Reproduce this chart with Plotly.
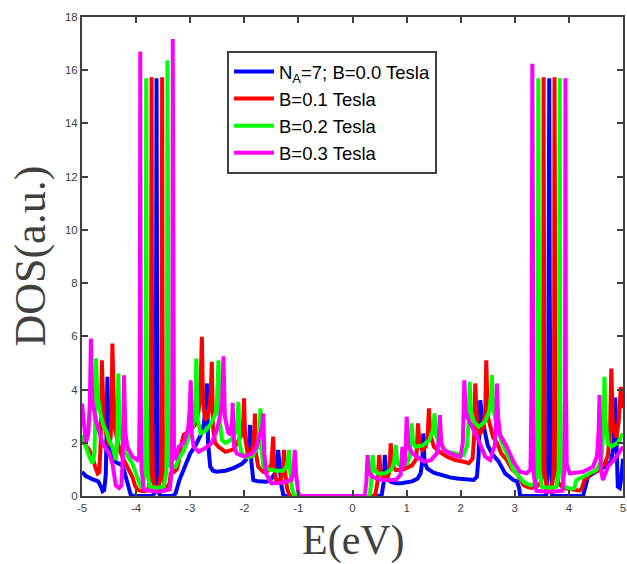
import plotly.graph_objects as go

# Density of states of an N_A = 7 armchair ribbon for four magnetic fields.
# Each list holds (E in eV, DOS in a.u.) samples.
DOS_B00 = [
    (-5.00, 0.91), (-4.93, 0.75), (-4.80, 0.62), (-4.70, 0.55), (-4.65, 0.35),
    (-4.62, 0.18), (-4.59, 0.22), (-4.56, 0.8), (-4.545, 2.5), (-4.53, 4.48),
    (-4.515, 2.8), (-4.50, 2.1), (-4.47, 1.6), (-4.44, 1.35), (-4.35, 1.25),
    (-4.25, 1.15), (-4.19, 0.72), (-4.13, 0.25), (-4.10, 0.05), (-4.05, 0.0),
    (-3.70, 0.0), (-3.66, 0.1), (-3.64, 1.5), (-3.63, 8.0), (-3.622, 15.7),
    (-3.614, 8.0), (-3.60, 1.5), (-3.58, 0.1), (-3.54, 0.0), (-3.32, 0.0),
    (-3.27, 0.1), (-3.20, 0.6), (-3.12, 1.0), (-3.05, 1.35), (-3.00, 1.6),
    (-2.90, 1.9), (-2.845, 2.1), (-2.78, 2.4), (-2.75, 2.7), (-2.72, 3.2),
    (-2.692, 4.23), (-2.67, 2.0), (-2.63, 1.1), (-2.58, 0.95), (-2.51, 0.91),
    (-2.35, 0.95), (-2.20, 1.05), (-2.05, 1.2), (-1.97, 1.35), (-1.92, 1.7),
    (-1.894, 2.67), (-1.87, 1.3), (-1.834, 0.6), (-1.75, 0.55), (-1.59, 0.54),
    (-1.50, 0.65), (-1.43, 0.86), (-1.39, 1.2), (-1.374, 1.73), (-1.35, 1.0),
    (-1.314, 0.4), (-1.28, 0.05), (-1.25, 0.0),
    (0.50, 0.0), (0.54, 0.05), (0.575, 0.5), (0.597, 1.54), (0.62, 0.9),
    (0.66, 0.6), (0.707, 0.54), (0.80, 0.48), (0.90, 0.48), (1.10, 0.55),
    (1.20, 0.65), (1.26, 0.85), (1.29, 1.3), (1.308, 2.35), (1.33, 1.3),
    (1.38, 1.04), (1.50, 0.88), (1.626, 0.79), (1.80, 0.7), (1.933, 0.66),
    (2.10, 0.62), (2.24, 0.6), (2.30, 0.72), (2.33, 1.5), (2.361, 3.6),
    (2.40, 2.9), (2.453, 2.35), (2.50, 1.9), (2.576, 1.6), (2.70, 1.3),
    (2.821, 0.85), (2.90, 0.72), (2.975, 0.6), (3.04, 0.55), (3.08, 0.3),
    (3.10, 0.0), (3.58, 0.0), (3.615, 1.5), (3.63, 8.0), (3.637, 15.7),
    (3.645, 8.0), (3.66, 1.5), (3.69, 0.0), (4.26, 0.0), (4.30, 0.3),
    (4.353, 0.72), (4.45, 0.85), (4.658, 1.1), (4.78, 1.3), (4.82, 1.8),
    (4.855, 3.7), (4.88, 1.0), (4.904, 0.35), (4.94, 0.3), (4.97, 0.7),
    (5.00, 1.4),
]

DOS_B01 = [
    (-5.00, 2.04), (-4.95, 1.95), (-4.87, 1.75), (-4.80, 1.4), (-4.74, 1.0),
    (-4.71, 0.85), (-4.68, 0.9), (-4.655, 2.0), (-4.633, 5.1), (-4.61, 3.3),
    (-4.60, 2.9), (-4.56, 2.4), (-4.50, 1.9), (-4.47, 2.2), (-4.455, 3.2),
    (-4.438, 5.73), (-4.42, 3.3), (-4.40, 2.6), (-4.346, 2.1), (-4.30, 1.7),
    (-4.25, 1.45), (-4.19, 1.2), (-4.13, 0.95), (-4.07, 0.72), (-4.02, 0.4),
    (-3.98, 0.25), (-3.93, 0.2), (-3.85, 0.18), (-3.78, 0.22), (-3.74, 0.6),
    (-3.725, 3.0), (-3.714, 15.74), (-3.703, 3.0), (-3.69, 0.8), (-3.66, 0.35),
    (-3.62, 0.3), (-3.58, 0.35), (-3.545, 0.8), (-3.53, 3.0), (-3.519, 15.74),
    (-3.508, 3.0), (-3.49, 0.6), (-3.46, 0.22), (-3.42, 0.25), (-3.38, 0.5),
    (-3.36, 0.85), (-3.30, 0.9), (-3.25, 1.0), (-3.21, 1.3), (-3.17, 1.9),
    (-3.12, 2.3), (-3.00, 2.45), (-2.90, 2.7), (-2.845, 3.2), (-2.81, 4.0),
    (-2.784, 5.98), (-2.765, 3.6), (-2.722, 2.85), (-2.68, 3.0), (-2.64, 3.4),
    (-2.62, 3.9), (-2.60, 5.04), (-2.58, 2.6), (-2.54, 2.0), (-2.477, 1.85),
    (-2.35, 1.66), (-2.20, 1.75), (-2.14, 1.98), (-2.05, 2.3), (-2.02, 2.8),
    (-2.005, 3.67), (-1.985, 2.2), (-1.93, 1.5), (-1.88, 1.5), (-1.84, 1.9),
    (-1.815, 2.5), (-1.803, 3.1), (-1.785, 1.6), (-1.742, 1.1), (-1.65, 0.91),
    (-1.56, 0.95), (-1.50, 1.2), (-1.48, 1.6), (-1.466, 2.23), (-1.445, 1.0),
    (-1.411, 0.6), (-1.33, 0.6), (-1.29, 0.9), (-1.265, 1.73), (-1.245, 0.9),
    (-1.21, 0.3), (-1.17, 0.05), (-1.13, 0.0),
    (0.38, 0.0), (0.42, 0.05), (0.46, 0.5), (0.494, 1.54), (0.52, 0.9),
    (0.56, 0.72), (0.647, 0.7), (0.68, 0.9), (0.707, 1.98), (0.73, 1.2),
    (0.80, 0.97), (0.95, 1.0), (1.10, 1.15), (1.18, 1.4), (1.211, 2.73),
    (1.24, 1.9), (1.29, 1.73), (1.35, 1.85), (1.39, 2.3), (1.413, 3.29),
    (1.44, 2.3), (1.505, 1.85), (1.65, 1.6), (1.75, 1.48), (1.90, 1.35),
    (2.056, 1.29), (2.148, 1.23), (2.22, 1.4), (2.25, 2.3), (2.269, 4.23),
    (2.30, 2.7), (2.35, 2.3), (2.42, 2.6), (2.455, 3.3), (2.472, 5.1),
    (2.50, 3.0), (2.545, 2.6), (2.60, 2.2), (2.668, 2.0), (2.75, 1.6),
    (2.852, 1.35), (2.95, 1.0), (3.036, 0.85), (3.10, 0.6), (3.16, 0.41),
    (3.22, 0.35), (3.30, 0.3), (3.40, 0.35), (3.48, 0.5), (3.515, 1.2),
    (3.525, 4.0), (3.532, 15.74), (3.54, 4.0), (3.55, 0.8), (3.60, 0.3),
    (3.68, 0.3), (3.715, 0.8), (3.726, 4.0), (3.734, 15.74), (3.742, 4.0),
    (3.755, 1.2), (3.80, 0.5), (3.90, 0.3), (4.05, 0.25), (4.20, 0.2),
    (4.24, 0.3), (4.29, 0.6), (4.40, 0.85), (4.537, 0.97), (4.658, 1.2),
    (4.72, 1.5), (4.76, 2.4), (4.784, 4.79), (4.81, 2.8), (4.842, 2.35),
    (4.88, 2.2), (4.92, 2.8), (4.96, 4.1), (4.98, 3.6), (5.00, 3.3),
]

DOS_B02 = [
    (-5.00, 2.29), (-4.93, 1.85), (-4.87, 1.5), (-4.805, 1.23), (-4.77, 1.6),
    (-4.755, 2.8), (-4.743, 5.17), (-4.72, 3.9), (-4.68, 3.3), (-4.651, 3.0),
    (-4.60, 2.6), (-4.559, 2.48), (-4.50, 2.1), (-4.438, 1.85), (-4.375, 1.35),
    (-4.35, 2.0), (-4.328, 4.6), (-4.31, 2.6), (-4.254, 2.1), (-4.192, 1.6),
    (-4.07, 1.23), (-3.978, 0.72), (-3.916, 0.35), (-3.87, 0.4), (-3.835, 1.0),
    (-3.822, 4.0), (-3.813, 15.7), (-3.804, 4.0), (-3.79, 0.9), (-3.75, 0.35),
    (-3.62, 0.3), (-3.49, 0.35), (-3.44, 0.9), (-3.428, 4.0), (-3.42, 16.37),
    (-3.41, 4.0), (-3.395, 1.4), (-3.36, 1.1), (-3.273, 1.1), (-3.212, 1.4),
    (-3.12, 1.7), (-3.05, 2.1), (-2.968, 2.48), (-2.92, 3.0), (-2.90, 3.8),
    (-2.887, 5.17), (-2.865, 2.9), (-2.808, 2.36), (-2.72, 2.45), (-2.624, 2.7),
    (-2.53, 3.1), (-2.50, 3.8), (-2.477, 5.1), (-2.455, 2.8), (-2.41, 2.1),
    (-2.35, 2.0), (-2.25, 2.1), (-2.16, 2.4), (-2.125, 2.9), (-2.11, 3.54),
    (-2.09, 2.0), (-2.049, 1.6), (-1.95, 1.45), (-1.85, 1.5), (-1.76, 1.8),
    (-1.72, 2.5), (-1.70, 3.29), (-1.68, 1.8), (-1.65, 1.1), (-1.55, 1.0),
    (-1.40, 0.95), (-1.283, 0.95), (-1.22, 1.1), (-1.19, 1.4), (-1.172, 1.73),
    (-1.15, 0.9), (-1.12, 0.3), (-1.08, 0.05), (-1.05, 0.0),
    (0.29, 0.0), (0.32, 0.05), (0.345, 0.5), (0.371, 1.54), (0.40, 1.0),
    (0.463, 0.85), (0.60, 0.85), (0.72, 1.0), (0.77, 1.3), (0.799, 1.91),
    (0.83, 1.25), (0.891, 1.1), (1.01, 1.23), (1.06, 1.5), (1.093, 2.73),
    (1.12, 2.0), (1.167, 1.85), (1.30, 1.9), (1.42, 2.1), (1.49, 2.5),
    (1.516, 3.1), (1.545, 2.3), (1.597, 2.0), (1.749, 1.66), (1.933, 1.58),
    (2.056, 1.54), (2.12, 1.9), (2.145, 2.8), (2.166, 4.29), (2.19, 3.2),
    (2.24, 2.8), (2.33, 2.6), (2.45, 2.8), (2.53, 3.2), (2.56, 3.8),
    (2.576, 4.54), (2.60, 3.3), (2.668, 2.6), (2.76, 2.0), (2.852, 1.6),
    (2.975, 0.97), (3.036, 0.85), (3.127, 0.6), (3.20, 0.48), (3.30, 0.4),
    (3.39, 0.5), (3.415, 1.2), (3.427, 4.0), (3.434, 15.7), (3.442, 4.0),
    (3.455, 1.0), (3.50, 0.35), (3.637, 0.3), (3.77, 0.35), (3.81, 1.0),
    (3.823, 4.0), (3.831, 15.7), (3.839, 4.0), (3.855, 1.2), (3.90, 0.4),
    (4.015, 0.25), (4.10, 0.3), (4.138, 0.6), (4.23, 0.7), (4.40, 0.85),
    (4.50, 0.97), (4.60, 1.3), (4.635, 2.4), (4.658, 4.48), (4.68, 2.8),
    (4.721, 1.98), (4.784, 1.85), (4.90, 2.0), (5.00, 2.35),
]

DOS_B03 = [
    (-5.00, 3.48), (-4.96, 2.6), (-4.927, 1.98), (-4.88, 2.4), (-4.855, 3.5),
    (-4.835, 5.92), (-4.81, 3.6), (-4.743, 2.85), (-4.622, 1.98), (-4.499, 1.6),
    (-4.438, 1.23), (-4.375, 0.4), (-4.315, 0.3), (-4.27, 0.4), (-4.245, 1.6),
    (-4.223, 4.54), (-4.20, 2.4), (-4.162, 1.85), (-4.07, 1.48), (-3.978, 1.35),
    (-3.945, 1.5), (-3.932, 4.0), (-3.923, 16.7), (-3.914, 4.0), (-3.90, 1.0),
    (-3.86, 0.25), (-3.62, 0.15), (-3.38, 0.25), (-3.34, 1.0), (-3.33, 4.0),
    (-3.322, 17.17), (-3.314, 4.0), (-3.30, 1.8), (-3.273, 1.35), (-3.212, 1.85),
    (-3.12, 2.0), (-3.04, 2.5), (-3.01, 3.2), (-2.99, 4.35), (-2.97, 2.3),
    (-2.936, 1.85), (-2.845, 1.66), (-2.72, 1.8), (-2.60, 2.0), (-2.508, 2.48),
    (-2.446, 3.0), (-2.41, 3.6), (-2.385, 5.25), (-2.36, 3.0), (-2.30, 2.4),
    (-2.25, 2.3), (-2.225, 2.9), (-2.214, 3.5), (-2.19, 1.9), (-2.14, 1.6),
    (-2.00, 1.48), (-1.85, 1.6), (-1.773, 1.85), (-1.70, 2.3), (-1.67, 2.6),
    (-1.65, 3.1), (-1.63, 1.6), (-1.60, 0.85), (-1.50, 0.48), (-1.30, 0.5),
    (-1.13, 0.6), (-1.09, 0.9), (-1.068, 1.73), (-1.045, 0.9), (-1.01, 0.2),
    (-0.98, 0.0),
    (0.20, 0.0), (0.23, 0.05), (0.255, 0.5), (0.279, 1.54), (0.30, 0.9),
    (0.371, 0.72), (0.50, 0.62), (0.65, 0.6), (0.80, 0.6), (0.89, 0.8),
    (0.922, 1.85), (0.95, 1.1), (0.975, 1.4), (1.001, 2.98), (1.03, 1.9),
    (1.106, 1.6), (1.321, 1.29), (1.45, 1.35), (1.56, 1.6), (1.595, 2.1),
    (1.615, 3.04), (1.64, 2.0), (1.689, 1.73), (1.872, 1.54), (1.994, 1.48),
    (2.04, 2.0), (2.067, 4.35), (2.09, 3.2), (2.148, 2.85), (2.301, 2.23),
    (2.453, 1.48), (2.545, 1.35), (2.63, 1.9), (2.655, 2.8), (2.668, 4.23),
    (2.69, 3.0), (2.729, 2.3), (2.852, 1.85), (2.975, 1.29), (3.096, 0.91),
    (3.219, 0.85), (3.29, 1.0), (3.31, 4.0), (3.324, 16.24), (3.334, 4.0),
    (3.35, 0.8), (3.40, 0.2), (3.637, 0.15), (3.88, 0.2), (3.915, 1.0),
    (3.928, 4.0), (3.936, 15.7), (3.944, 4.0), (3.96, 1.2), (4.015, 0.85),
    (4.261, 0.91), (4.445, 1.1), (4.52, 1.5), (4.55, 2.5), (4.566, 3.79),
    (4.59, 1.0), (4.629, 0.6), (4.721, 1.1), (4.85, 1.4), (5.00, 1.85),
]

SERIES_NAMES = ["N<sub>A</sub>=7; B=0.0 Tesla", "B=0.1 Tesla", "B=0.2 Tesla", "B=0.3 Tesla"]
SERIES_COLORS = ["#0000FF", "#FF0000", "#00FF00", "#FF00FF"]

X_TICKS = [-5, -4, -3, -2, -1, 0, 1, 2, 3, 4, 5]
X_TICK_TEXT = ["-5", "-4", "-3", "-2", "-1", "0", "1", "2", "3", "4", "5"]
Y_TICKS = [0, 2, 4, 6, 8, 10, 12, 14, 16, 18]

AXIS_COLOR = "#404040"

fig = go.Figure()
for data, name, color in zip([DOS_B00, DOS_B01, DOS_B02, DOS_B03], SERIES_NAMES, SERIES_COLORS):
    fig.add_trace(go.Scatter(
        x=[p[0] for p in data], y=[p[1] for p in data],
        mode="lines", name=name,
        line=dict(color=color, width=4),
    ))

axis_common = dict(
    showline=True, linecolor=AXIS_COLOR, linewidth=2, mirror="ticks",
    ticks="inside", ticklen=6, tickwidth=2, tickcolor=AXIS_COLOR,
    showgrid=False, zeroline=False, ticklabeloverflow="allow",
    tickfont=dict(family="Liberation Sans, Arial, sans-serif", size=11.5, color=AXIS_COLOR),
)

fig.update_layout(
    width=627, height=564,
    margin=dict(l=82, r=1, t=17, b=68),
    paper_bgcolor="white", plot_bgcolor="white",
    xaxis=dict(range=[-5, 5], tickvals=X_TICKS, ticktext=X_TICK_TEXT, **axis_common),
    yaxis=dict(range=[0, 18], tickvals=Y_TICKS, **axis_common),
    showlegend=True,
    legend=dict(
        x=0.268, y=0.929, xanchor="left", yanchor="top",
        bgcolor="white", bordercolor=AXIS_COLOR, borderwidth=2,
        itemwidth=40,
        font=dict(family="Liberation Sans, Arial, sans-serif", size=18.5, color="black"),
    ),
    annotations=[
        dict(text="E(eV)", xref="paper", yref="paper", x=0.502, y=-0.093,
             xanchor="center", yanchor="middle", showarrow=False,
             font=dict(family="Liberation Serif, serif", size=42, color=AXIS_COLOR)),
        dict(text="DOS(a.u.)", xref="paper", yref="paper", x=-0.096, y=0.5,
             xanchor="center", yanchor="middle", showarrow=False, textangle=-90,
             font=dict(family="Liberation Serif, serif", size=44, color=AXIS_COLOR)),
    ],
)

fig.write_html("out.html")
